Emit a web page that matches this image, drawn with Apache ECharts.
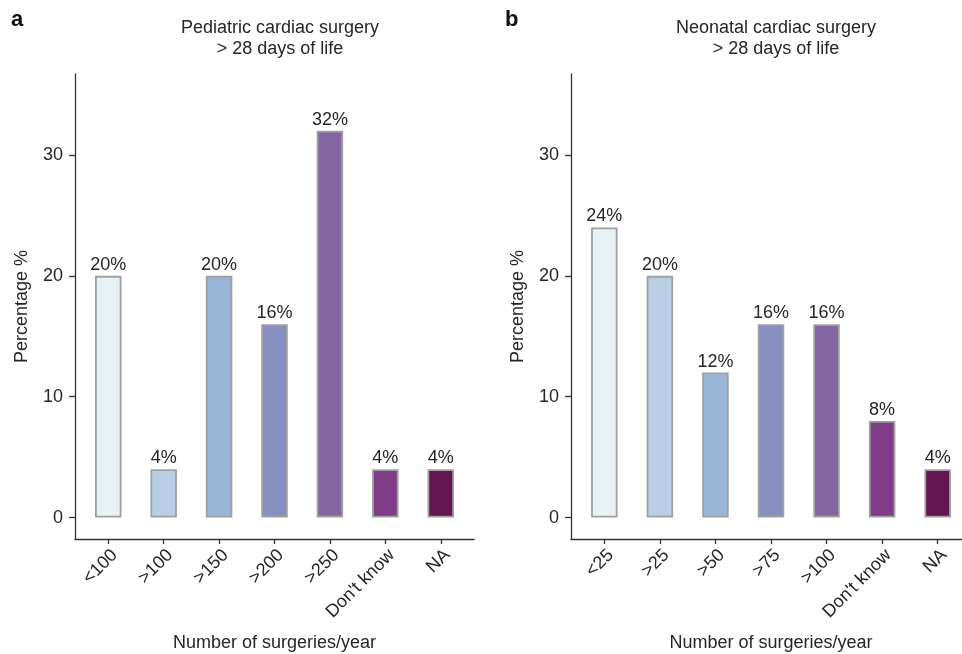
<!DOCTYPE html>
<html>
<head>
<meta charset="utf-8">
<script src="https://cdn.jsdelivr.net/npm/echarts@6/dist/echarts.min.js"></script>
<style>
html,body{margin:0;padding:0;background:#fff;}
#chart{width:962px;height:654px;}
</style>
</head>
<body>
<div id="chart"></div>
<script>
// ---- data ----
const pedCategories = ['<100', '>100', '>150', '>200', '>250', "Don't know", 'NA'];
const pedValues = [20, 4, 20, 16, 32, 4, 4];
const neoCategories = ['<25', '>25', '>50', '>75', '>100', "Don't know", 'NA'];
const neoValues = [24, 20, 12, 16, 16, 8, 4];
const yTicks = [0, 10, 20, 30];
const barColors = ['#e8f1f3', '#b9cfe5', '#9ab6d7', '#8790c0', '#8566a2', '#7f3c87', '#631550'];
const panelTitles = ['Pediatric cardiac surgery\n> 28 days of life', 'Neonatal cardiac surgery\n> 28 days of life'];
const panelLetters = ['a', 'b'];
const xName = 'Number of surgeries/year';
const yName = 'Percentage %';

const FONT = 'Liberation Sans, Arial, sans-serif';
const FS = 18;
const TXT = '#262626';
const AX = '#333333';

const grids = [
  {left: 75, top: 74, width: 399, height: 465, outerBoundsMode: 'none', containLabel: false},
  {left: 571, top: 74, width: 400, height: 465, outerBoundsMode: 'none', containLabel: false}
];
const catIdx = pedCategories.map((_, i) => i);

function xAxisFor(gi, cats) {
  return {
    type: 'value', gridIndex: gi, min: -0.6, max: 6.6,
    splitLine: {show: false},
    axisLine: {show: true, onZero: false, lineStyle: {color: AX, width: 1.3}},
    axisTick: {show: true, customValues: catIdx, length: 5, lineStyle: {color: AX, width: 1.3}},
    axisLabel: {show: true, customValues: catIdx, rotate: 45, margin: 7, verticalAlign: 'top',
      fontSize: FS, color: TXT, fontFamily: FONT,
      formatter: v => cats[Math.round(v)]},
    name: xName, nameLocation: 'middle', nameGap: 95,
    nameTextStyle: {fontSize: FS, color: TXT, fontFamily: FONT}
  };
}
function yAxisFor(gi) {
  return {
    type: 'value', gridIndex: gi, min: -1.77, max: 36.7,
    splitLine: {show: false},
    axisLine: {show: true, onZero: false, lineStyle: {color: AX, width: 1.3}},
    axisTick: {show: true, customValues: yTicks, length: 6, lineStyle: {color: AX, width: 1.3}},
    axisLabel: {show: true, customValues: yTicks, margin: 12, fontSize: FS, color: TXT, fontFamily: FONT},
    name: yName, nameLocation: 'middle', nameGap: 44,
    nameTextStyle: {fontSize: FS, color: TXT, fontFamily: FONT}
  };
}
function seriesFor(gi, vals) {
  return {
    type: 'bar', xAxisIndex: gi, yAxisIndex: gi, barWidth: 26.5,
    data: vals.map((v, i) => ({value: [i, v], itemStyle: {color: barColors[i]}})),
    itemStyle: {borderColor: '#a0a0a0', borderWidth: 1.8},
    label: {show: true, position: 'top', distance: 2, fontSize: FS, color: TXT, fontFamily: FONT,
      formatter: p => p.value[1] + '%'},
    animation: false
  };
}

const chart = echarts.init(document.getElementById('chart'), null, {renderer: 'canvas'});
chart.setOption({
  backgroundColor: '#ffffff',
  animation: false,
  title: [
    {text: panelTitles[0], left: 275, top: 13, textAlign: 'center',
     textStyle: {fontSize: FS, fontWeight: 'normal', color: TXT, fontFamily: FONT, lineHeight: 21}},
    {text: panelTitles[1], left: 771, top: 13, textAlign: 'center',
     textStyle: {fontSize: FS, fontWeight: 'normal', color: TXT, fontFamily: FONT, lineHeight: 21}},
    {text: panelLetters[0], left: 6, top: 4,
     textStyle: {fontSize: 22, fontWeight: 'bold', color: '#111', fontFamily: FONT}},
    {text: panelLetters[1], left: 500, top: 4,
     textStyle: {fontSize: 22, fontWeight: 'bold', color: '#111', fontFamily: FONT}}
  ],
  grid: grids,
  xAxis: [xAxisFor(0, pedCategories), xAxisFor(1, neoCategories)],
  yAxis: [yAxisFor(0), yAxisFor(1)],
  series: [seriesFor(0, pedValues), seriesFor(1, neoValues)]
});
</script>
</body>
</html>
